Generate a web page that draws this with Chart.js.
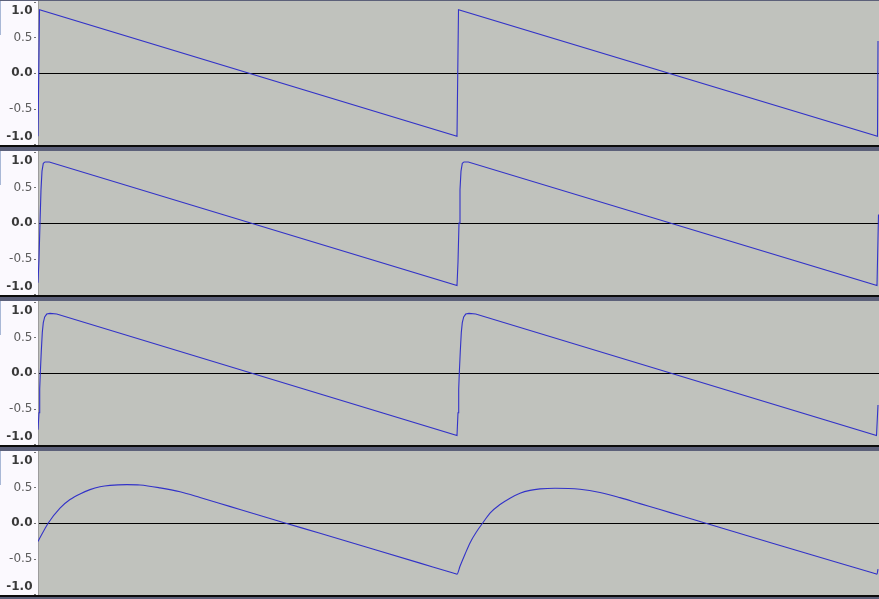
<!DOCTYPE html>
<html>
<head>
<meta charset="utf-8">
<title>Waveform tracks</title>
<script src="https://cdn.jsdelivr.net/npm/chart.js@4.4.1/dist/chart.umd.min.js"></script>
<style>
    html, body { margin: 0; padding: 0; }
    body {
        width: 879px;
        height: 599px;
        overflow: hidden;
        position: relative;
        background: #5c6079;
    }
    .track {
        position: absolute;
        left: 0;
        width: 879px;
        height: 144px;
        background: #fbf9fe;
    }
    .track canvas { position: absolute; left: 0; top: 0; }
    .grip {
        position: absolute;
        left: 0;
        top: 0;
        width: 1px;
        height: 34px;
        background: #a9b8d6;
    }
    .sep {
        position: absolute;
        left: 0;
        width: 879px;
        height: 2px;
        background: #0c0c0c;
    }
</style>
</head>
<body>
<div class="track" style="top:1px"><canvas id="track1" width="879" height="144"></canvas><div class="grip"></div></div>
<div class="sep" style="top:145px"></div>
<div class="track" style="top:151px"><canvas id="track2" width="879" height="144"></canvas><div class="grip"></div></div>
<div class="sep" style="top:295px"></div>
<div class="track" style="top:301px"><canvas id="track3" width="879" height="144"></canvas><div class="grip"></div></div>
<div class="sep" style="top:445px"></div>
<div class="track" style="top:451px"><canvas id="track4" width="879" height="144"></canvas><div class="grip"></div></div>
<div class="sep" style="top:595px"></div>

<script>
// --- 1. DATA (x = sample position across the view, y = amplitude) ---
const yTicks = [-1, -0.5, 0, 0.5, 1];
const yTickLabels = ['-1.0', '-0.5', '0.0', '0.5', '1.0'];

// track 1: plain sawtooth
const track1X = [0, 1.5, 419, 420.5, 839.5, 840];
const track1Y = [-0.89, 0.89, -0.89, 0.89, -0.89, 0.45];

// track 2: sawtooth with slightly rounded edge
const track2X = [0, 1, 2, 3, 4, 5.3, 7, 11.3, 419, 420, 421, 422, 423, 424.3, 426, 430.3, 839, 840.5];
const track2Y = [-0.84, -0.51, 0, 0.47, 0.73, 0.84, 0.86, 0.86, -0.88, -0.55, 0, 0.47, 0.73, 0.84, 0.86, 0.86, -0.88, 0.12];

// track 3: softer edge
const track3X = [0, 1, 1.7, 2.3, 3.3, 4.3, 5.3, 6.7, 8.7, 12, 18.7, 419, 420, 420.7, 421.3, 422.3, 423.3, 424.3, 425.7, 427.7, 431, 437.7, 838.5, 840];
const track3Y = [-0.80, -0.56, -0.23, 0, 0.31, 0.57, 0.71, 0.79, 0.83, 0.84, 0.83, -0.88, -0.56, -0.23, 0, 0.31, 0.57, 0.71, 0.79, 0.83, 0.84, 0.83, -0.88, -0.45];

// track 4: heavily filtered (drawn as a smooth curve)
const track4X = [0, 10.3, 22, 32, 42, 52, 62, 72, 89, 102, 122, 142, 162, 182, 202, 222, 247, 282, 382, 416, 419,
                 422, 427, 432, 438.7, 444.7, 452, 462, 472, 482, 492, 502, 517, 542, 562, 582, 602, 622, 642, 667, 702, 802, 836, 839, 840];
const track4Y = [-0.26, 0, 0.21, 0.33, 0.41, 0.47, 0.51, 0.53, 0.54, 0.535, 0.495, 0.44, 0.36, 0.275, 0.19, 0.105, 0, -0.145, -0.565, -0.707, -0.72,
                 -0.61, -0.44, -0.28, -0.12, 0, 0.14, 0.26, 0.35, 0.42, 0.46, 0.48, 0.49, 0.475, 0.43, 0.357, 0.273, 0.19, 0.105, 0, -0.147, -0.567, -0.707, -0.72, -0.65];

// --- 2. PLUGINS ---
const plotBackground = {
    id: 'plotBackground',
    beforeDraw(chart) {
        const a = chart.chartArea;
        const c = chart.ctx;
        c.save();
        c.fillStyle = '#c0c2bd';
        c.fillRect(a.left, a.top, a.right - a.left, a.bottom - a.top);
        c.restore();
    }
};

// audacity style ruler: end labels are pushed inside the track
const rulerLabels = {
    id: 'rulerLabels',
    afterDraw(chart) {
        const s = chart.scales.y;
        const a = chart.chartArea;
        const c = chart.ctx;
        c.save();
        c.textAlign = 'right';
        c.textBaseline = 'middle';
        yTicks.forEach((v, i) => {
            const py = s.getPixelForValue(v);
            const major = v % 1 === 0;
            c.font = (major ? 'bold ' : '') + '12px "DejaVu Sans"';
            c.fillStyle = major ? '#3a3a3a' : '#5c5c5c';
            const ly = Math.min(Math.max(py, a.top + 9.5), a.bottom - 8.5);
            c.fillText(yTickLabels[i], 32.5, ly);
            c.fillStyle = '#707070';
            c.fillRect(34, Math.round(Math.min(Math.max(py, a.top), a.bottom - 1)), 2, 1);
        });
        c.restore();
    }
};

// --- 3. CHARTS ---
function makeTrack(id, xs, ys, smooth) {
    const ctx = document.getElementById(id).getContext('2d');
    return new Chart(ctx, {
        type: 'line',
        data: {
            datasets: [{
                data: xs.map((x, i) => ({ x: x, y: ys[i] })),
                borderColor: '#3232c8',
                borderWidth: 1.1,
                pointRadius: 0,
                tension: smooth ? 0.4 : 0,
                cubicInterpolationMode: smooth ? 'monotone' : 'default',
                fill: false
            }]
        },
        options: {
            responsive: false,
            animation: false,
            events: [],
            layout: { padding: 0 },
            plugins: {
                legend: { display: false },
                tooltip: { enabled: false }
            },
            scales: {
                x: { type: 'linear', min: 0, max: 841, display: false },
                y: {
                    min: -1.014,
                    max: 1.014,
                    afterFit: (scale) => { scale.width = 38; },
                    afterBuildTicks: (scale) => { scale.ticks = yTicks.map(v => ({ value: v })); },
                    ticks: { display: false },
                    grid: {
                        drawTicks: false,
                        lineWidth: 1,
                        color: (c) => (c.tick && c.tick.value === 0) ? '#000000' : 'rgba(0,0,0,0)'
                    },
                    border: { display: true, color: '#9c9c9c', width: 1 }
                }
            }
        },
        plugins: [plotBackground, rulerLabels]
    });
}

makeTrack('track1', track1X, track1Y, false);
makeTrack('track2', track2X, track2Y, false);
makeTrack('track3', track3X, track3Y, false);
makeTrack('track4', track4X, track4Y, true);
</script>
</body>
</html>
